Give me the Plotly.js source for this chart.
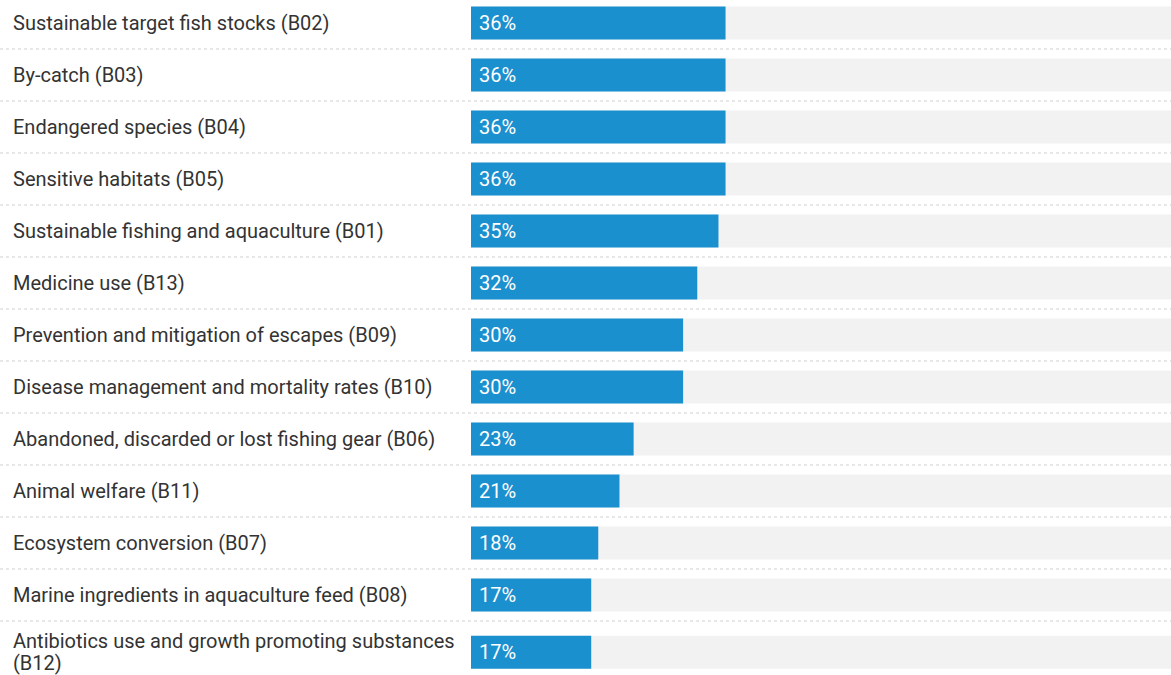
<!DOCTYPE html>
<html>
<head>
<meta charset="utf-8">
<script src="https://cdn.plot.ly/plotly-3.0.1.min.js"></script>
<style>html,body{margin:0;padding:0;overflow:hidden;background:#fff}#chart{width:1171px;height:675px}</style>
</head>
<body>
<div id="chart"></div>
<script>
const categories = [
  "Sustainable target fish stocks (B02)",
  "By-catch (B03)",
  "Endangered species (B04)",
  "Sensitive habitats (B05)",
  "Sustainable fishing and aquaculture (B01)",
  "Medicine use (B13)",
  "Prevention and mitigation of escapes (B09)",
  "Disease management and mortality rates (B10)",
  "Abandoned, discarded or lost fishing gear (B06)",
  "Animal welfare (B11)",
  "Ecosystem conversion (B07)",
  "Marine ingredients in aquaculture feed (B08)",
  "Antibiotics use and growth promoting substances<br>(B12)"
];
const values = [36, 36, 36, 36, 35, 32, 30, 30, 23, 21, 18, 17, 17];
const valueLabels = ["36%", "36%", "36%", "36%", "35%", "32%", "30%", "30%", "23%", "21%", "18%", "17%", "17%"];
const maxValue = 100;

const n = categories.length;
// row positions: last row is slightly taller because its label wraps
const ypos = categories.map((c, i) => i + (c.indexOf('<br>') >= 0 ? 0.1 : 0));

const PX_LEFT = 471, W = 1171;
const plotW = W - PX_LEFT;
const rowPx = 52;
const topPx = 23;
const lineGap = 22;

const bgTrace = {
  type: 'bar', orientation: 'h',
  x: categories.map(() => maxValue), y: ypos,
  width: 0.635,
  marker: {color: '#f2f2f2'},
  hoverinfo: 'skip', showlegend: false
};
const barTrace = {
  type: 'bar', orientation: 'h',
  x: values, y: ypos,
  width: 0.635,
  marker: {color: '#1b90cf'},
  hoverinfo: 'skip', showlegend: false
};

const annotations = [];
categories.forEach((c, i) => {
  const lines = c.split('<br>');
  lines.forEach((ln, k) => {
    annotations.push({
      xref: 'paper', yref: 'y', x: (11 - PX_LEFT) / plotW, y: ypos[i],
      yshift: -(k - (lines.length - 1) / 2) * lineGap,
      xanchor: 'left', yanchor: 'middle', align: 'left',
      text: ln, showarrow: false,
      font: {family: 'Roboto, sans-serif', size: 20, color: '#333333'}
    });
  });
  annotations.push({
    xref: 'x', yref: 'y', x: 0, y: ypos[i], xshift: 6,
    xanchor: 'left', yanchor: 'middle',
    text: valueLabels[i], showarrow: false,
    font: {family: 'Roboto, sans-serif', size: 20, color: '#ffffff'}
  });
});

const shapes = [];
for (let i = 0; i < n - 1; i++) {
  shapes.push({
    type: 'line', xref: 'paper', yref: 'y',
    x0: -PX_LEFT / plotW, x1: 1, y0: i + 0.5, y1: i + 0.5,
    line: {color: '#cfcfcf', width: 1, dash: 'dot'}
  });
}

const layout = {
  width: 1171, height: 675,
  margin: {l: PX_LEFT, r: 0, t: 0, b: 0, pad: 0},
  barmode: 'overlay',
  paper_bgcolor: '#ffffff', plot_bgcolor: '#ffffff',
  xaxis: {range: [0, 99], visible: false, fixedrange: true},
  yaxis: {range: [(675 - topPx) / rowPx, -topPx / rowPx], visible: false, fixedrange: true},
  annotations: annotations,
  shapes: shapes,
  showlegend: false
};

Plotly.newPlot('chart', [bgTrace, barTrace], layout, {displayModeBar: false, staticPlot: true});
</script>
</body>
</html>
